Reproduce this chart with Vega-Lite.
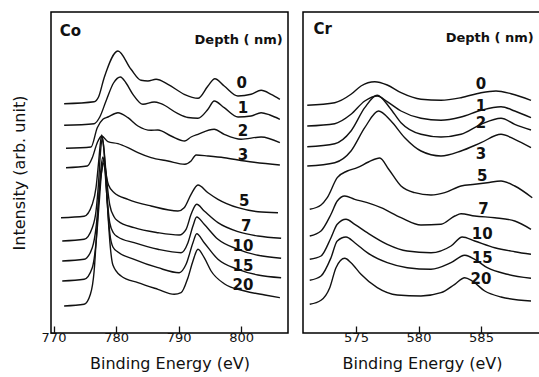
{
  "$schema": "https://vega.github.io/schema/vega-lite/v6.json",
  "padding": {"left": 10, "top": 11, "right": 0, "bottom": 0},
  "background": "white",
  "spacing": 13,
  "config": {
    "view": {"stroke": "black", "strokeWidth": 1.5},
    "font": "DejaVu Sans",
    "text": {"font": "DejaVu Sans"},
    "axis": {"grid": false, "labelColor": "#111", "titleColor": "#111", "tickColor": "#111", "labelFont": "DejaVu Sans", "titleFont": "DejaVu Sans"}
  },
  "datasets": {
    "co": [
      {"d":"0","E":771.7,"I":229.3},{"d":"0","E":776.5,"I":231.3},{"d":"0","E":777.2,"I":236},{"d":"0","E":778.1,"I":255.3},{"d":"0","E":780.3,"I":282},{"d":"0","E":782.4,"I":263.7},{"d":"0","E":784.0,"I":252.7},{"d":"0","E":785.1,"I":252},{"d":"0","E":786.4,"I":253.7},{"d":"0","E":788.3,"I":248.7},{"d":"0","E":790.9,"I":238.7},{"d":"0","E":793.1,"I":234.7},{"d":"0","E":794.7,"I":247},{"d":"0","E":795.8,"I":254.3},{"d":"0","E":797.3,"I":247},{"d":"0","E":799.5,"I":237},{"d":"0","E":801.6,"I":238.7},{"d":"0","E":803.2,"I":242.7},{"d":"0","E":804.8,"I":238.7},{"d":"0","E":806.2,"I":233.7},
      {"d":"1","E":771.7,"I":207.7},{"d":"1","E":776.5,"I":209.3},{"d":"1","E":777.4,"I":216},{"d":"1","E":778.4,"I":232},{"d":"1","E":779.6,"I":250},{"d":"1","E":780.7,"I":256},{"d":"1","E":781.6,"I":250},{"d":"1","E":782.7,"I":238.7},{"d":"1","E":784.3,"I":228.7},{"d":"1","E":786.1,"I":231},{"d":"1","E":787.2,"I":229.3},{"d":"1","E":789.9,"I":219.3},{"d":"1","E":791.5,"I":215.5},{"d":"1","E":793.1,"I":214.7},{"d":"1","E":794.7,"I":223.7},{"d":"1","E":795.7,"I":232},{"d":"1","E":797.3,"I":225.3},{"d":"1","E":799.5,"I":216},{"d":"1","E":801.6,"I":217},{"d":"1","E":803.2,"I":220.3},{"d":"1","E":804.6,"I":218},{"d":"1","E":806.2,"I":213.7},
      {"d":"2","E":772.0,"I":184.7},{"d":"2","E":776.0,"I":186},{"d":"2","E":777.0,"I":205.3},{"d":"2","E":777.9,"I":213.7},{"d":"2","E":778.7,"I":216},{"d":"2","E":780.3,"I":220.3},{"d":"2","E":781.9,"I":215.3},{"d":"2","E":783.5,"I":207},{"d":"2","E":785.6,"I":202.7},{"d":"2","E":786.7,"I":203},{"d":"2","E":788.8,"I":197},{"d":"2","E":791.0,"I":192},{"d":"2","E":792.0,"I":196},{"d":"2","E":793.1,"I":198.7},{"d":"2","E":795.7,"I":203.7},{"d":"2","E":797.3,"I":198.7},{"d":"2","E":800.0,"I":193.7},{"d":"2","E":803.2,"I":196},{"d":"2","E":806.2,"I":190.3},
      {"d":"3","E":772.0,"I":165.3},{"d":"3","E":775.4,"I":167},{"d":"3","E":776.2,"I":175.3},{"d":"3","E":777.0,"I":190.3},{"d":"3","E":777.7,"I":197},{"d":"3","E":778.7,"I":191.3},{"d":"3","E":780.3,"I":189.3},{"d":"3","E":781.9,"I":185.3},{"d":"3","E":783.5,"I":180.3},{"d":"3","E":785.6,"I":175.3},{"d":"3","E":788.3,"I":172},{"d":"3","E":791.0,"I":168.7},{"d":"3","E":792.0,"I":172},{"d":"3","E":792.8,"I":178},{"d":"3","E":794.7,"I":177},{"d":"3","E":797.3,"I":175.3},{"d":"3","E":800.6,"I":172},{"d":"3","E":806.2,"I":168},
      {"d":"5","E":771.2,"I":115.3},{"d":"5","E":774.9,"I":116.7},{"d":"5","E":776.2,"I":128.7},{"d":"5","E":776.8,"I":145.3},{"d":"5","E":777.2,"I":170},{"d":"5","E":777.5,"I":190},{"d":"5","E":777.7,"I":198},{"d":"5","E":777.95,"I":190},{"d":"5","E":778.3,"I":165},{"d":"5","E":778.8,"I":148},{"d":"5","E":779.7,"I":140.3},{"d":"5","E":781.9,"I":133.7},{"d":"5","E":785.6,"I":127},{"d":"5","E":789.9,"I":122},{"d":"5","E":790.9,"I":125.3},{"d":"5","E":792.0,"I":138.7},{"d":"5","E":793.1,"I":148},{"d":"5","E":794.7,"I":140.3},{"d":"5","E":796.3,"I":133.7},{"d":"5","E":799.5,"I":125.3},{"d":"5","E":802.7,"I":121.3},{"d":"5","E":805.9,"I":120.3},
      {"d":"7","E":771.4,"I":92},{"d":"7","E":774.9,"I":93.7},{"d":"7","E":776.2,"I":105.3},{"d":"7","E":776.8,"I":122},{"d":"7","E":777.2,"I":150},{"d":"7","E":777.5,"I":180},{"d":"7","E":777.8,"I":195},{"d":"7","E":778.05,"I":185},{"d":"7","E":778.4,"I":160},{"d":"7","E":779.0,"I":128},{"d":"7","E":779.7,"I":116},{"d":"7","E":780.3,"I":112},{"d":"7","E":782.9,"I":105.3},{"d":"7","E":786.7,"I":100.3},{"d":"7","E":790.1,"I":98},{"d":"7","E":791.2,"I":103.7},{"d":"7","E":792.0,"I":118.7},{"d":"7","E":792.9,"I":128.7},{"d":"7","E":794.1,"I":122},{"d":"7","E":796.3,"I":110.3},{"d":"7","E":799.5,"I":101.3},{"d":"7","E":802.7,"I":97},{"d":"7","E":806.4,"I":94.7},
      {"d":"10","E":771.4,"I":72},{"d":"10","E":774.9,"I":73.7},{"d":"10","E":776.2,"I":85.3},{"d":"10","E":776.8,"I":105.3},{"d":"10","E":777.3,"I":140},{"d":"10","E":777.6,"I":165},{"d":"10","E":777.9,"I":176},{"d":"10","E":778.15,"I":168},{"d":"10","E":778.5,"I":140},{"d":"10","E":779.0,"I":110},{"d":"10","E":779.6,"I":100},{"d":"10","E":780.3,"I":96},{"d":"10","E":782.9,"I":90.3},{"d":"10","E":786.7,"I":83.7},{"d":"10","E":790.4,"I":80.3},{"d":"10","E":791.5,"I":90.3},{"d":"10","E":792.3,"I":107},{"d":"10","E":792.9,"I":116},{"d":"10","E":794.1,"I":108.7},{"d":"10","E":796.3,"I":93.7},{"d":"10","E":799.5,"I":83.7},{"d":"10","E":802.7,"I":77.7},{"d":"10","E":806.4,"I":74.7},
      {"d":"15","E":771.4,"I":52},{"d":"15","E":774.9,"I":53.7},{"d":"15","E":776.2,"I":65.3},{"d":"15","E":776.8,"I":90},{"d":"15","E":777.3,"I":130},{"d":"15","E":777.7,"I":162},{"d":"15","E":778.0,"I":173},{"d":"15","E":778.25,"I":165},{"d":"15","E":778.6,"I":130},{"d":"15","E":779.0,"I":100},{"d":"15","E":779.5,"I":86},{"d":"15","E":780.3,"I":81},{"d":"15","E":782.9,"I":73.7},{"d":"15","E":786.7,"I":65.3},{"d":"15","E":790.1,"I":60.3},{"d":"15","E":791.2,"I":68.7},{"d":"15","E":792.3,"I":90.3},{"d":"15","E":792.9,"I":99.3},{"d":"15","E":794.1,"I":90.3},{"d":"15","E":796.3,"I":73.7},{"d":"15","E":799.5,"I":63.7},{"d":"15","E":802.7,"I":58},{"d":"15","E":806.4,"I":55.3},
      {"d":"20","E":771.7,"I":27},{"d":"20","E":774.9,"I":28.7},{"d":"20","E":775.9,"I":38.7},{"d":"20","E":776.5,"I":62},{"d":"20","E":776.9,"I":100},{"d":"20","E":777.3,"I":140},{"d":"20","E":777.8,"I":165},{"d":"20","E":778.1,"I":170},{"d":"20","E":778.35,"I":160},{"d":"20","E":778.7,"I":120},{"d":"20","E":779.1,"I":85},{"d":"20","E":779.5,"I":68},{"d":"20","E":780.8,"I":57},{"d":"20","E":783.5,"I":50.3},{"d":"20","E":786.7,"I":43.7},{"d":"20","E":789.3,"I":38.7},{"d":"20","E":790.4,"I":40.3},{"d":"20","E":791.5,"I":55.3},{"d":"20","E":792.3,"I":72},{"d":"20","E":793.1,"I":83.7},{"d":"20","E":794.1,"I":75.3},{"d":"20","E":795.2,"I":62},{"d":"20","E":797.3,"I":49.3},{"d":"20","E":800.6,"I":42},{"d":"20","E":803.8,"I":38},{"d":"20","E":806.2,"I":35.3}
    ],
    "coLabels": [
      {"t":"0","E":800.1,"I":250.3,"s":15},{"t":"1","E":800.3,"I":225.3,"s":15},{"t":"2","E":800.3,"I":202,"s":15},{"t":"3","E":800.3,"I":178,"s":15},{"t":"5","E":800.5,"I":132,"s":15},{"t":"7","E":800.8,"I":107,"s":15},{"t":"10","E":800.3,"I":87,"s":15},{"t":"15","E":800.3,"I":67,"s":15},{"t":"20","E":800.3,"I":48,"s":15},
      {"t":"Depth ( nm)","E":799.6,"I":293,"s":13}
    ],
    "cr": [
      {"d":"0","E":571.1,"I":227.7},{"d":"0","E":573.3,"I":230.3},{"d":"0","E":574.6,"I":238.7},{"d":"0","E":575.4,"I":247},{"d":"0","E":576.5,"I":251.3},{"d":"0","E":577.5,"I":248},{"d":"0","E":578.6,"I":240.3},{"d":"0","E":580.2,"I":233.7},{"d":"0","E":581.8,"I":232.7},{"d":"0","E":583.4,"I":235.3},{"d":"0","E":585.0,"I":240.3},{"d":"0","E":586.2,"I":242},{"d":"0","E":587.4,"I":239.3},{"d":"0","E":589.0,"I":232.7},
      {"d":"1","E":571.1,"I":207},{"d":"1","E":573.3,"I":209.3},{"d":"1","E":574.6,"I":218.7},{"d":"1","E":575.7,"I":232},{"d":"1","E":576.7,"I":237},{"d":"1","E":577.5,"I":231.3},{"d":"1","E":578.6,"I":222},{"d":"1","E":580.2,"I":214.7},{"d":"1","E":581.8,"I":212.7},{"d":"1","E":583.4,"I":216},{"d":"1","E":585.0,"I":222.7},{"d":"1","E":586.6,"I":226.3},{"d":"1","E":587.7,"I":222},{"d":"1","E":589.0,"I":215.3},
      {"d":"2","E":571.1,"I":186.3},{"d":"2","E":573.3,"I":189.3},{"d":"2","E":574.6,"I":202},{"d":"2","E":575.7,"I":225.3},{"d":"2","E":576.7,"I":237.7},{"d":"2","E":577.7,"I":225.3},{"d":"2","E":578.6,"I":210.3},{"d":"2","E":580.2,"I":198.7},{"d":"2","E":581.8,"I":196},{"d":"2","E":583.4,"I":198.7},{"d":"2","E":585.0,"I":208.7},{"d":"2","E":586.6,"I":214.7},{"d":"2","E":587.7,"I":208.7},{"d":"2","E":589.0,"I":203},
      {"d":"3","E":571.1,"I":167},{"d":"3","E":573.3,"I":170.3},{"d":"3","E":574.6,"I":182},{"d":"3","E":575.7,"I":205.3},{"d":"3","E":576.8,"I":222},{"d":"3","E":577.8,"I":212},{"d":"3","E":578.9,"I":195.3},{"d":"3","E":580.2,"I":182},{"d":"3","E":581.8,"I":177},{"d":"3","E":583.4,"I":182},{"d":"3","E":585.0,"I":190.3},{"d":"3","E":586.6,"I":198.7},{"d":"3","E":587.7,"I":193.7},{"d":"3","E":589.0,"I":185.3},
      {"d":"5","E":571.3,"I":123.7},{"d":"5","E":572.2,"I":128},{"d":"5","E":572.7,"I":135.3},{"d":"5","E":573.5,"I":155.3},{"d":"5","E":574.3,"I":162},{"d":"5","E":575.1,"I":165.3},{"d":"5","E":576.0,"I":171},{"d":"5","E":576.9,"I":175},{"d":"5","E":577.6,"I":164},{"d":"5","E":578.6,"I":147},{"d":"5","E":579.7,"I":140.3},{"d":"5","E":581.0,"I":138},{"d":"5","E":582.1,"I":140.3},{"d":"5","E":583.4,"I":147},{"d":"5","E":584.5,"I":148.7},{"d":"5","E":585.5,"I":150.3},{"d":"5","E":586.6,"I":152},{"d":"5","E":587.7,"I":147},{"d":"5","E":589.1,"I":135.3},
      {"d":"7","E":571.3,"I":97},{"d":"7","E":572.2,"I":102},{"d":"7","E":573.0,"I":118.7},{"d":"7","E":573.5,"I":132},{"d":"7","E":574.1,"I":137},{"d":"7","E":574.9,"I":133.7},{"d":"7","E":575.9,"I":130.3},{"d":"7","E":577.0,"I":125.3},{"d":"7","E":578.6,"I":115.3},{"d":"7","E":580.2,"I":108},{"d":"7","E":581.8,"I":108.7},{"d":"7","E":582.9,"I":117},{"d":"7","E":583.4,"I":119.3},{"d":"7","E":584.5,"I":117},{"d":"7","E":586.1,"I":115.3},{"d":"7","E":587.7,"I":112},{"d":"7","E":589.0,"I":103.7},
      {"d":"10","E":571.3,"I":73.7},{"d":"10","E":572.2,"I":77},{"d":"10","E":573.0,"I":95.3},{"d":"10","E":573.5,"I":108.7},{"d":"10","E":574.2,"I":113.7},{"d":"10","E":574.9,"I":108.7},{"d":"10","E":575.9,"I":100.3},{"d":"10","E":577.5,"I":88.7},{"d":"10","E":579.1,"I":82},{"d":"10","E":581.0,"I":80.3},{"d":"10","E":582.6,"I":87},{"d":"10","E":583.5,"I":96},{"d":"10","E":584.5,"I":92},{"d":"10","E":586.1,"I":85.3},{"d":"10","E":587.7,"I":81.3},{"d":"10","E":589.0,"I":78.7},
      {"d":"15","E":571.3,"I":52.7},{"d":"15","E":572.2,"I":57},{"d":"15","E":573.0,"I":75.3},{"d":"15","E":573.5,"I":92},{"d":"15","E":574.2,"I":96},{"d":"15","E":574.9,"I":90.3},{"d":"15","E":575.9,"I":80.3},{"d":"15","E":577.5,"I":70.3},{"d":"15","E":579.1,"I":65.3},{"d":"15","E":581.0,"I":63.7},{"d":"15","E":582.6,"I":70.3},{"d":"15","E":583.7,"I":77.7},{"d":"15","E":584.5,"I":73.7},{"d":"15","E":585.5,"I":65.3},{"d":"15","E":587.1,"I":58.7},{"d":"15","E":589.0,"I":54.7},
      {"d":"20","E":571.3,"I":28.7},{"d":"20","E":572.2,"I":32.7},{"d":"20","E":572.9,"I":45.3},{"d":"20","E":573.4,"I":65.3},{"d":"20","E":574.1,"I":74.7},{"d":"20","E":574.6,"I":70.3},{"d":"20","E":575.4,"I":58.7},{"d":"20","E":576.7,"I":45.3},{"d":"20","E":578.3,"I":38},{"d":"20","E":580.2,"I":37},{"d":"20","E":581.8,"I":40.3},{"d":"20","E":582.9,"I":48.7},{"d":"20","E":583.7,"I":55.3},{"d":"20","E":584.3,"I":52},{"d":"20","E":585.3,"I":42},{"d":"20","E":586.6,"I":36},{"d":"20","E":589.0,"I":32}
    ],
    "crLabels": [
      {"t":"0","E":585.0,"I":248.7,"s":15},{"t":"1","E":585.0,"I":227,"s":15},{"t":"2","E":585.0,"I":210.3,"s":15},{"t":"3","E":585.0,"I":178.7,"s":15},{"t":"5","E":585.1,"I":157,"s":15},{"t":"7","E":585.2,"I":123.7,"s":15},{"t":"10","E":585.1,"I":99.3,"s":15},{"t":"15","E":585.1,"I":75.3,"s":15},{"t":"20","E":585.0,"I":53.7,"s":15},
      {"t":"Depth ( nm)","E":585.7,"I":295,"s":13}
    ]
  },
  "hconcat": [
    {
      "width": 237,
      "height": 321,
      "layer": [
        {
          "data": {"name": "co"},
          "mark": {"type": "line", "color": "#111", "strokeWidth": 1.4, "interpolate": "monotone"},
          "encoding": {
            "x": {"field": "E", "type": "quantitative", "scale": {"domain": [769.6, 807.5], "nice": false, "zero": false},
              "axis": {"values": [770, 780, 790, 800], "tickSize": -7, "tickWidth": 1.3, "labelPadding": 5, "domain": false, "labelFontSize": 13, "title": "Binding Energy   (eV)", "titleFontSize": 16, "titleFontWeight": "normal", "titlePadding": 11}},
            "y": {"field": "I", "type": "quantitative", "scale": {"domain": [0, 321], "nice": false},
              "axis": {"title": "Intensity  (arb. unit)", "labels": false, "ticks": false, "domain": false, "titlePadding": 24, "titleFontSize": 16, "titleFontWeight": "normal"}},
            "detail": {"field": "d", "type": "nominal"}
          }
        },
        {
          "data": {"name": "coLabels"},
          "mark": {"type": "text", "color": "#111", "fontWeight": "bold", "align": "center", "baseline": "middle"},
          "encoding": {
            "x": {"field": "E", "type": "quantitative"},
            "y": {"field": "I", "type": "quantitative"},
            "text": {"field": "t"},
            "size": {"field": "s", "type": "quantitative", "scale": null}
          }
        },
        {
          "data": {"values": [{"t": "Co", "E": 771.0, "I": 302}]},
          "mark": {"type": "text", "color": "#111", "fontWeight": "bold", "fontSize": 15, "align": "left", "baseline": "middle"},
          "encoding": {
            "x": {"field": "E", "type": "quantitative"},
            "y": {"field": "I", "type": "quantitative"},
            "text": {"field": "t"}
          }
        }
      ]
    },
    {
      "width": 238,
      "height": 321,
      "layer": [
        {
          "data": {"name": "cr"},
          "mark": {"type": "line", "color": "#111", "strokeWidth": 1.4, "interpolate": "monotone"},
          "encoding": {
            "x": {"field": "E", "type": "quantitative", "scale": {"domain": [570.76, 589.8], "nice": false, "zero": false},
              "axis": {"values": [575, 580, 585], "tickSize": -7, "tickWidth": 1.3, "labelPadding": 5, "domain": false, "labelFontSize": 13, "title": "Binding Energy   (eV)", "titleFontSize": 16, "titleFontWeight": "normal", "titlePadding": 11}},
            "y": {"field": "I", "type": "quantitative", "scale": {"domain": [0, 321], "nice": false}, "axis": null},
            "detail": {"field": "d", "type": "nominal"}
          }
        },
        {
          "data": {"name": "crLabels"},
          "mark": {"type": "text", "color": "#111", "fontWeight": "bold", "align": "center", "baseline": "middle"},
          "encoding": {
            "x": {"field": "E", "type": "quantitative"},
            "y": {"field": "I", "type": "quantitative"},
            "text": {"field": "t"},
            "size": {"field": "s", "type": "quantitative", "scale": null}
          }
        },
        {
          "data": {"values": [{"t": "Cr", "E": 571.6, "I": 303.7}]},
          "mark": {"type": "text", "color": "#111", "fontWeight": "bold", "fontSize": 15, "align": "left", "baseline": "middle"},
          "encoding": {
            "x": {"field": "E", "type": "quantitative"},
            "y": {"field": "I", "type": "quantitative"},
            "text": {"field": "t"}
          }
        }
      ]
    }
  ]
}
